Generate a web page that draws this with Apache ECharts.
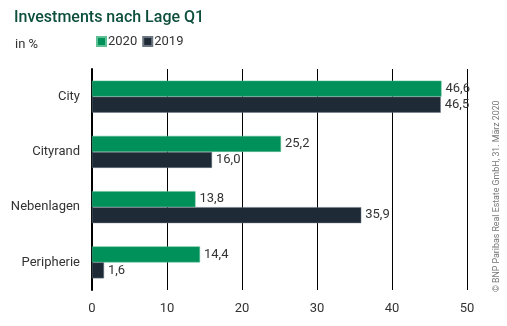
<!DOCTYPE html>
<html><head><meta charset="utf-8">
<script src="https://cdn.jsdelivr.net/npm/echarts@6/dist/echarts.min.js"></script>
<style>html,body{margin:0;padding:0;background:#fff}#c{width:507px;height:326px}</style>
</head><body><div id="c"></div>
<script>
const categories = ['City', 'Cityrand', 'Nebenlagen', 'Peripherie'];
const values2020 = [46.6, 25.2, 13.8, 14.4];
const values2019 = [46.5, 16.0, 35.9, 1.6];
const xTicks = [0, 10, 20, 30, 40, 50];
const FONT = 'Roboto, "Liberation Sans", sans-serif';
const chart = echarts.init(document.getElementById('c'), null, {renderer: 'canvas'});
const lbl = {show: true, position: 'right', distance: 4, color: '#333', fontSize: 13, fontFamily: FONT,
  formatter: p => p.value.toFixed(1).replace('.', ',')};
chart.setOption({
  animation: false,
  textStyle: {fontFamily: FONT},
  title: [
    {text: 'Investments nach Lage Q1', left: 9, top: 5, textStyle: {color: '#0d4f3c', fontSize: 16, fontWeight: 500, fontFamily: FONT}},
    {text: 'in %', left: 10, top: 33, textStyle: {color: '#333', fontSize: 13, fontWeight: 'normal', fontFamily: FONT}}
  ],
  legend: {left: 96, top: 35, padding: 0, itemWidth: 9, itemHeight: 9, itemGap: 5, icon: 'rect',
    textStyle: {color: '#333', fontSize: 13, fontFamily: FONT, padding: [0, 0, 0, -3]},
    data: ['2020', '2019']},
  grid: {left: 92, right: 40, top: 69, bottom: 36},
  xAxis: {type: 'value', min: 0, max: 50, interval: 10,
    axisLine: {show: false}, axisTick: {show: false},
    axisLabel: {color: '#333', fontSize: 13, margin: 12, fontFamily: FONT},
    splitLine: {lineStyle: {color: '#000', width: 1}}},
  yAxis: {type: 'category', inverse: true, data: categories,
    axisLine: {lineStyle: {color: '#000', width: 2}}, axisTick: {show: false},
    axisLabel: {color: '#333', fontSize: 13, margin: 12, fontFamily: FONT}},
  series: [
    {name: '2020', type: 'bar', data: values2020, barWidth: 16, barGap: '0%',
      itemStyle: {color: '#00905a', borderColor: '#5fbf95', borderWidth: 0.5}, label: lbl},
    {name: '2019', type: 'bar', data: values2019, barWidth: 16, barGap: '0%',
      itemStyle: {color: '#1e2b37', borderColor: '#6b7680', borderWidth: 0.5}, label: lbl}
  ],
  graphic: [{type: 'text', x: 497, y: 292, rotation: Math.PI / 2,
    style: {text: '© BNP Paribas Real Estate GmbH, 31. März 2020', fill: '#777', fontSize: 8.8, fontFamily: FONT,
      textAlign: 'left', textVerticalAlign: 'middle'}}]
});
</script></body></html>
